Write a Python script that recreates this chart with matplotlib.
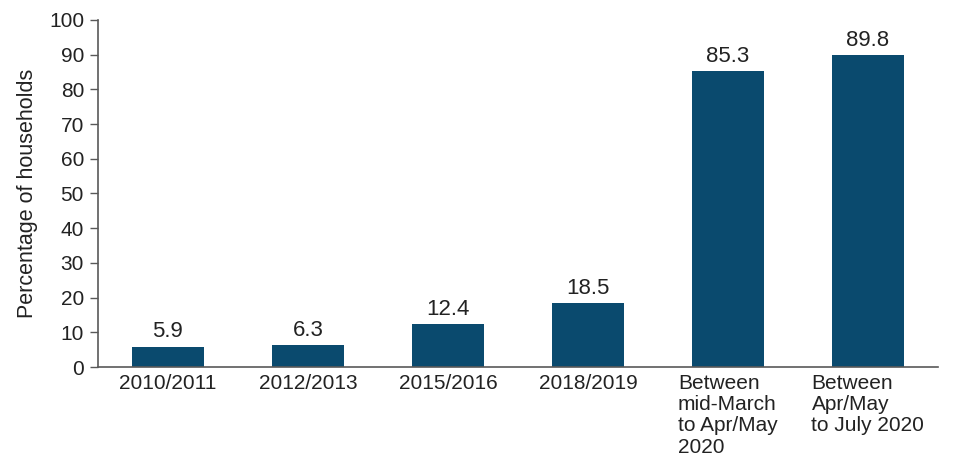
import matplotlib
matplotlib.use("Agg")
import matplotlib.pyplot as plt

# data
periods = ["2010/2011", "2012/2013", "2015/2016", "2018/2019",
           "Between\nmid-March\nto Apr/May\n2020",
           "Between\nApr/May\nto July 2020"]
share = [5.9, 6.3, 12.4, 18.5, 85.3, 89.8]

bar_color = "#0a4a6e"
text_color = "#222222"
axis_color = "#595959"

plt.rcParams["font.family"] = ["Liberation Sans", "DejaVu Sans"]

fig = plt.figure(figsize=(9.6, 4.74), dpi=100)
ax = fig.add_axes([0.102, 0.2257, 0.875, 0.7323])

x = range(len(periods))
bars = ax.bar(x, share, width=0.52, color=bar_color)

for b, v in zip(bars, share):
    ax.annotate(f"{v}", (b.get_x() + b.get_width() / 2, v),
                xytext=(0, 3), textcoords="offset points",
                ha="center", va="bottom", fontsize=16, color=text_color)

ax.set_xlim(-0.5, len(periods) - 0.5)
ax.set_ylim(0, 100)
ax.set_yticks(range(0, 101, 10))
ax.set_xticks(list(x))
ax.set_xticklabels(periods, fontsize=15, color=text_color,
                   multialignment="left", linespacing=1.15)
ax.tick_params(axis="y", labelsize=15, labelcolor=text_color,
               length=6, width=1, color=axis_color, pad=4)
ax.tick_params(axis="x", length=0, pad=5)

ax.set_ylabel("Percentage of households", fontsize=15.5,
              color=text_color, labelpad=8)

for side in ("top", "right"):
    ax.spines[side].set_visible(False)
for side in ("left", "bottom"):
    ax.spines[side].set_color(axis_color)
    ax.spines[side].set_linewidth(1.2)

fig.savefig("out.png", dpi=100)
